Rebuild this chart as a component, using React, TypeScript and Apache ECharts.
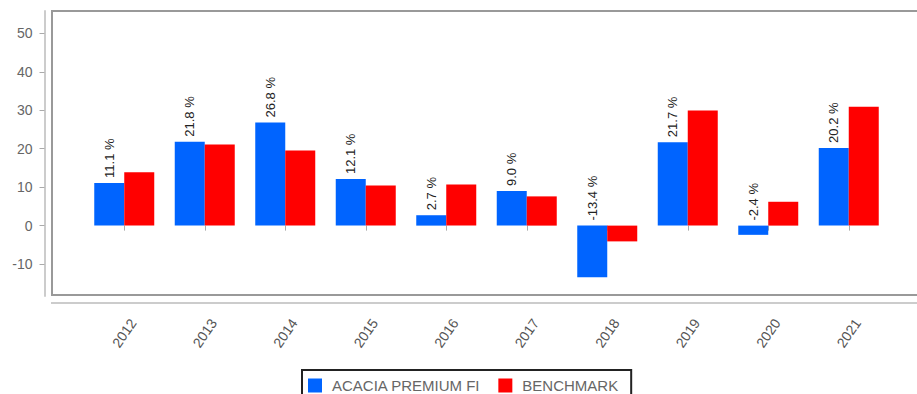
import React, { useEffect, useRef } from "react";
import * as echarts from "echarts";

const years = ["2012", "2013", "2014", "2015", "2016", "2017", "2018", "2019", "2020", "2021"];
const fundValues = [11.1, 21.8, 26.8, 12.1, 2.7, 9.0, -13.4, 21.7, -2.4, 20.2];
const benchmarkValues = [13.9, 21.1, 19.5, 10.4, 10.7, 7.6, -4.1, 29.9, 6.2, 30.9];
const yTicks = [-10, 0, 10, 20, 30, 40, 50];
const seriesNames = ["ACACIA PREMIUM FI", "BENCHMARK"];

const FONT = "'Liberation Sans', Arial, sans-serif";

export default function App() {
  const ref = useRef<HTMLDivElement>(null);
  useEffect(() => {
    if (!ref.current) return;
    const chart = echarts.init(ref.current, undefined, { renderer: "svg" });
    chart.setOption({
      animation: false,
      textStyle: { fontFamily: FONT },
      grid: { left: 84, right: 28, top: 11, bottom: 98, containLabel: false },
      graphic: [
        {
          type: "rect",
          z: 0,
          shape: { x: 52, y: 11, width: 900, height: 284 },
          style: { fill: "none", stroke: "#999", lineWidth: 2 },
        },
        {
          type: "line",
          z: 0,
          shape: { x1: 51, y1: 303, x2: 917, y2: 303 },
          style: { stroke: "#ccc", lineWidth: 2 },
        },
      ],
      legend: {
        data: seriesNames,
        left: 302,
        top: 370,
        orient: "horizontal",
        icon: "rect",
        itemWidth: 14,
        itemHeight: 14,
        itemGap: 18,
        padding: [8, 13, 8, 6],
        borderColor: "#222",
        borderWidth: 2,
        textStyle: { fontFamily: FONT, fontSize: 15, color: "#666", padding: [0, 0, 0, 5] },
      },
      xAxis: {
        type: "category",
        data: years,
        offset: 7,
        axisLine: { show: false },
        axisTick: { show: true, alignWithLabel: true, length: 5, lineStyle: { color: "#aaa" } },
        axisLabel: {
          rotate: 55,
          align: "center",
          verticalAlign: "middle",
          margin: 30,
          fontSize: 14,
          color: "#555",
          fontFamily: FONT,
        },
        splitLine: { show: false },
      },
      yAxis: {
        type: "value",
        min: -18.3,
        max: 55.8,
        offset: 39.5,
        axisLine: { show: true, lineStyle: { color: "#ccc", width: 2 } },
        axisTick: { show: true, length: 5, customValues: yTicks, lineStyle: { color: "#aaa" } },
        axisLabel: { customValues: yTicks, margin: 12, fontSize: 14, color: "#666", fontFamily: FONT },
        splitLine: { show: false },
      },
      series: [
        {
          name: seriesNames[0],
          type: "bar",
          data: fundValues,
          barWidth: 30,
          barGap: "0%",
          itemStyle: { color: "#0064ff" },
          label: {
            show: true,
            position: "top",
            rotate: 90,
            align: "left",
            verticalAlign: "middle",
            distance: 5,
            fontSize: 13,
            color: "#222",
            fontFamily: FONT,
            formatter: (p: any) => Number(p.value).toFixed(1) + " %",
          },
        },
        {
          name: seriesNames[1],
          type: "bar",
          data: benchmarkValues,
          barWidth: 30,
          barGap: "0%",
          itemStyle: { color: "#ff0000" },
        },
      ],
    });
    return () => chart.dispose();
  }, []);
  return (
    <div
      ref={ref}
      style={{ position: "fixed", left: 0, top: 0, width: 917, height: 394, background: "#fff" }}
    />
  );
}
